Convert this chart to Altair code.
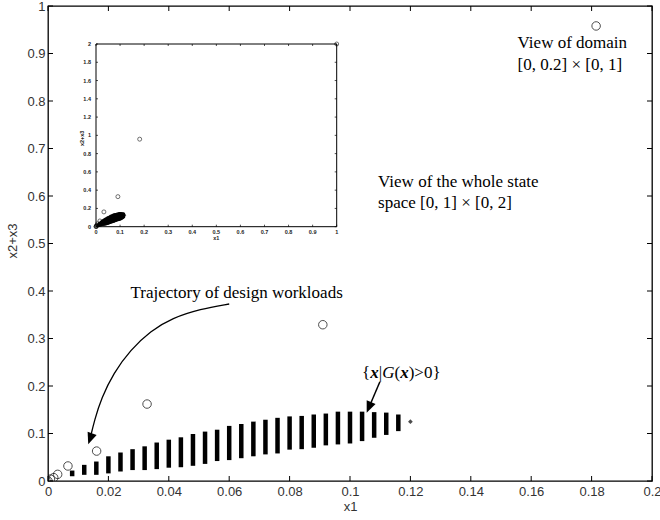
import altair as alt
import pandas as pd

# ---------------- data ----------------
# region {x | G(x) > 0}: one vertical stack of grid points per x1 value
col_x = [0.008, 0.012, 0.016, 0.020, 0.024, 0.028, 0.032, 0.036, 0.040, 0.044,
         0.048, 0.052, 0.056, 0.060, 0.064, 0.068, 0.072, 0.076, 0.080, 0.084,
         0.088, 0.092, 0.096, 0.100, 0.104, 0.108, 0.112, 0.116]
col_lo = [0.010, 0.013, 0.013, 0.016, 0.020, 0.023, 0.023, 0.025, 0.028, 0.029,
          0.032, 0.036, 0.042, 0.044, 0.048, 0.052, 0.056, 0.058, 0.066, 0.067,
          0.070, 0.075, 0.077, 0.079, 0.084, 0.091, 0.097, 0.105]
col_hi = [0.022, 0.034, 0.041, 0.052, 0.060, 0.067, 0.073, 0.081, 0.087, 0.092,
          0.099, 0.104, 0.108, 0.116, 0.120, 0.125, 0.129, 0.133, 0.136, 0.137,
          0.140, 0.142, 0.146, 0.146, 0.146, 0.145, 0.144, 0.140]
edge_x = [0.120]
edge_y = [0.125]

# trajectory of design workloads (open circles)
traj_x = [0.0, 0.0008, 0.0019, 0.0032, 0.0066, 0.0161, 0.0328, 0.091, 0.1815, 1.0]
traj_y = [0.0, 0.004, 0.007, 0.014, 0.0316, 0.063, 0.162, 0.329, 0.958, 2.0]

# axes
main_xticks = [0, 0.02, 0.04, 0.06, 0.08, 0.1, 0.12, 0.14, 0.16, 0.18, 0.2]
main_yticks = [0, 0.1, 0.2, 0.3, 0.4, 0.5, 0.6, 0.7, 0.8, 0.9, 1]
inset_xticks = [0, 0.1, 0.2, 0.3, 0.4, 0.5, 0.6, 0.7, 0.8, 0.9, 1]
inset_xlabels = ["0", "0.1", "0.2", "0.3", "0.4", "0.5", "0.6", "0.7", "0.8", "0.9", "1"]
inset_yticks = [0, 0.2, 0.4, 0.6, 0.8, 1, 1.2, 1.4, 1.6, 1.8, 2]
inset_ylabels = ["0", "0.2", "0.4", "0.6", "0.8", "1", "1.2", "1.4", "1.6", "1.8", "2"]

# annotations (data coordinates of the main view)
notes = [
    ("View of domain", 0.1555, 0.912),
    ("[0, 0.2] × [0, 1]", 0.1555, 0.865),
    ("View of the whole state", 0.1093, 0.618),
    ("space [0, 1] × [0, 2]", 0.1093, 0.574),
    ("Trajectory of design workloads", 0.0273, 0.385),
]
set_label_pos = (0.104, 0.2168)
arrow1_x = [0.0600, 0.0504, 0.0412, 0.0339, 0.0273, 0.0217, 0.0177, 0.0154, 0.0140]
arrow1_y = [0.3726, 0.3621, 0.3432, 0.3158, 0.2758, 0.2274, 0.1747, 0.1284, 0.0905]
head1 = (0.0140, 0.0895, 20)
arrow2_x = [0.1099, 0.1063]
arrow2_y = [0.209, 0.1554]
head2 = (0.1063, 0.1554, 23)

# ---------------- tables ----------------
df_cols = pd.DataFrame({"x": col_x, "lo": col_lo, "hi": col_hi})
df_edge = pd.DataFrame({"x": edge_x, "y": edge_y})
df_traj = pd.DataFrame({"x": traj_x, "y": traj_y})
df_mxt = pd.DataFrame({"v": main_xticks})
df_myt = pd.DataFrame({"v": main_yticks})
df_ixt = pd.DataFrame({"v": inset_xticks, "t": inset_xlabels})
df_iyt = pd.DataFrame({"v": inset_yticks, "t": inset_ylabels})
df_notes = pd.DataFrame({"t": [n[0] for n in notes], "x": [n[1] for n in notes], "y": [n[2] for n in notes]})
df_a1 = pd.DataFrame({"x": arrow1_x, "y": arrow1_y, "o": list(range(len(arrow1_x)))})
df_a2 = pd.DataFrame({"x": arrow2_x, "y": arrow2_y, "o": list(range(len(arrow2_x)))})
df_heads = pd.DataFrame({"x": [head1[0], head2[0]], "y": [head1[1], head2[1]], "a": [head1[2], head2[2]]})
df_set = pd.DataFrame({"x": [set_label_pos[0]], "y": [set_label_pos[1]]})
df_frame = pd.DataFrame({"x0": [0], "x1": [1], "y0": [0], "y1": [2]})

W, H = 604, 475
SERIF = "Liberation Serif"
SANS = "Liberation Sans"

xs = alt.Scale(domain=[0, 0.2], nice=False, zero=False)
ys = alt.Scale(domain=[0, 1], nice=False, zero=False)

# ---------------- main view ----------------
cols = alt.Chart(df_cols).mark_rule(strokeWidth=4.5, color="black").encode(
    x=alt.X("x:Q", scale=xs, axis=alt.Axis(values=main_xticks, format="~g", title="x1",
                                           labelPadding=4, labelFlush=False, titleX=W / 2, titleY=29,
                                           titleBaseline="alphabetic")),
    y=alt.Y("lo:Q", scale=ys, axis=alt.Axis(values=main_yticks, format="~g", title="x2+x3",
                                            labelPadding=3, labelFlush=False, titleX=-36, titleY=H / 2 - 3,
                                            titleAngle=270, titleBaseline="middle",
                                            titleAlign="center")),
    y2="hi:Q",
)
edge = alt.Chart(df_edge).mark_point(shape="diamond", filled=True, size=22, color="black").encode(
    x=alt.X("x:Q", scale=xs), y=alt.Y("y:Q", scale=ys))
traj = alt.Chart(df_traj).mark_point(shape="circle", filled=False, size=72, strokeWidth=1,
                                     color="black", clip=True).encode(
    x=alt.X("x:Q", scale=xs), y=alt.Y("y:Q", scale=ys))

tick_kw = dict(color="black", strokeWidth=1)
tb = alt.Chart(df_mxt).mark_rule(**tick_kw).encode(x=alt.X("v:Q", scale=xs), y=alt.value(H), y2=alt.value(H - 5))
tt = alt.Chart(df_mxt).mark_rule(**tick_kw).encode(x=alt.X("v:Q", scale=xs), y=alt.value(0), y2=alt.value(5))
tl = alt.Chart(df_myt).mark_rule(**tick_kw).encode(y=alt.Y("v:Q", scale=ys), x=alt.value(0), x2=alt.value(5))
tr = alt.Chart(df_myt).mark_rule(**tick_kw).encode(y=alt.Y("v:Q", scale=ys), x=alt.value(W), x2=alt.value(W - 5))

note_txt = alt.Chart(df_notes).mark_text(font=SERIF, fontSize=17, align="left",
                                         baseline="alphabetic", color="black").encode(
    x=alt.X("x:Q", scale=xs), y=alt.Y("y:Q", scale=ys), text="t:N")

pieces = [("{", "normal", "normal", 0), ("x", "italic", "bold", 8.2), ("|", "normal", "normal", 16.7),
          ("G", "italic", "normal", 20.1), ("(", "normal", "normal", 32.4), ("x", "italic", "bold", 38.1),
          (")>0}", "normal", "normal", 46.6)]
set_layers = []
for s, st, wt, dx in pieces:
    set_layers.append(
        alt.Chart(df_set).mark_text(text=s, font=SERIF, fontSize=17, fontStyle=st, fontWeight=wt,
                                    align="left", baseline="alphabetic", dx=dx, color="black").encode(
            x=alt.X("x:Q", scale=xs), y=alt.Y("y:Q", scale=ys)))

a1 = alt.Chart(df_a1).mark_line(color="black", strokeWidth=1.3, interpolate="basis").encode(
    x=alt.X("x:Q", scale=xs), y=alt.Y("y:Q", scale=ys), order="o:Q")
a2 = alt.Chart(df_a2).mark_line(color="black", strokeWidth=1.5).encode(
    x=alt.X("x:Q", scale=xs), y=alt.Y("y:Q", scale=ys), order="o:Q")
heads = alt.Chart(df_heads).mark_point(shape="M0,1L-0.8,-0.9L0.8,-0.9Z", filled=True, size=144,
                                       color="black", opacity=1).encode(
    x=alt.X("x:Q", scale=xs), y=alt.Y("y:Q", scale=ys), angle=alt.Angle("a:Q", scale=None))

main = alt.layer(cols, edge, traj, tb, tt, tl, tr, note_txt, *set_layers, a1, a2, heads)

# ---------------- inset (whole state space) ----------------
IL, IR, IT, IB = 48, 288.7, 38, 220.7
ixs = alt.Scale(domain=[0, 1], range=[IL, IR], nice=False, zero=False)
iys = alt.Scale(domain=[0, 2], range=[IB, IT], nice=False, zero=False)
IX = lambda f: alt.X(f, scale=ixs, axis=None)
IY = lambda f: alt.Y(f, scale=iys, axis=None)

frame = alt.Chart(df_frame).mark_rect(fill="white", stroke="black", strokeWidth=1).encode(
    x=IX("x0:Q"), x2="x1:Q", y=IY("y0:Q"), y2="y1:Q")
icols = alt.Chart(df_cols).mark_rule(strokeWidth=2.6, strokeCap="round", color="black").encode(
    x=IX("x:Q"), y=IY("lo:Q"), y2="hi:Q")
iedge = alt.Chart(df_edge).mark_point(shape="diamond", filled=True, size=8, color="black").encode(
    x=IX("x:Q"), y=IY("y:Q"))
itraj = alt.Chart(df_traj).mark_point(shape="circle", filled=False, size=16, strokeWidth=0.8,
                                      color="black").encode(x=IX("x:Q"), y=IY("y:Q"))
itk = dict(color="black", strokeWidth=0.7)
itb = alt.Chart(df_ixt).mark_rule(**itk).encode(x=IX("v:Q"), y=alt.value(IB), y2=alt.value(IB - 2))
itt = alt.Chart(df_ixt).mark_rule(**itk).encode(x=IX("v:Q"), y=alt.value(IT), y2=alt.value(IT + 2))
itl = alt.Chart(df_iyt).mark_rule(**itk).encode(y=IY("v:Q"), x=alt.value(IL), x2=alt.value(IL + 2))
itr = alt.Chart(df_iyt).mark_rule(**itk).encode(y=IY("v:Q"), x=alt.value(IR), x2=alt.value(IR - 2))
ixl = alt.Chart(df_ixt).mark_text(font=SANS, fontSize=5.5, fontWeight="bold", color="#222",
                                  baseline="middle").encode(x=IX("v:Q"), y=alt.value(IB + 5), text="t:N")
iyl = alt.Chart(df_iyt).mark_text(font=SANS, fontSize=5.5, fontWeight="bold", color="#222",
                                  align="right", baseline="middle").encode(
    y=IY("v:Q"), x=alt.value(IL - 5), text="t:N")
ixt = alt.Chart(df_frame).mark_text(text="x1", font=SANS, fontSize=5.5, fontWeight="bold", color="#222",
                                    baseline="middle").encode(x=alt.value((IL + IR) / 2), y=alt.value(IB + 11.5))
iyt = alt.Chart(df_frame).mark_text(text="x2+x3", font=SANS, fontSize=5.5, fontWeight="bold", color="#222",
                                    angle=270, baseline="middle").encode(x=alt.value(IL - 14),
                                                                         y=alt.value((IT + IB) / 2 + 3))

inset = alt.layer(frame, icols, iedge, itraj, itb, itt, itl, itr, ixl, iyl, ixt, iyt)

chart = alt.layer(main, inset).resolve_scale(x="independent", y="independent").properties(
    width=W, height=H,
    autosize=alt.AutoSizeParams(type="none"),
    padding={"left": 48, "top": 6, "right": 8, "bottom": 39},
    background="white",
).configure_view(stroke="black", strokeWidth=1.3).configure_axis(
    ticks=False, domain=False, grid=False, labelFlush=False,
    labelFont=SANS, labelFontSize=13, labelColor="#333",
    titleFont=SANS, titleFontSize=13, titleFontWeight="normal", titleColor="#333",
)

chart.save("out.html", embed_options={"renderer": "svg", "actions": False})
